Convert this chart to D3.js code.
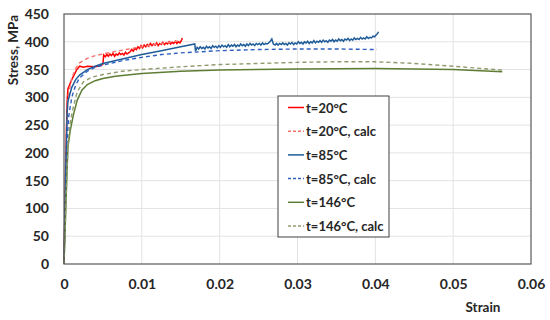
<!DOCTYPE html>
<html>
<head>
<meta charset="utf-8">
<script src="https://cdn.jsdelivr.net/npm/d3@7"></script>
<style>
  body { margin: 0; background: #fff; }
  text { font-family: Lato, "Open Sans", sans-serif; font-weight: bold; fill: #262626; }
</style>
</head>
<body>
<div id="chart"></div>
<script>
// axis ticks
var xTicks = [0, 0.01, 0.02, 0.03, 0.04, 0.05, 0.06];
var yTicks = [0, 50, 100, 150, 200, 250, 300, 350, 400, 450];

// measured curves, [strain, stress MPa]
var exp20 = [[0,0],[0.0002,170],[0.0004,290],[0.0005,315],[0.001,332],[0.0016,349],[0.002,356],[0.0025,354],
  [0.003,356],[0.004,355],[0.0048,357],[0.005,360],[0.0051,376],[0.0053,373],[0.0055,377],[0.0057,374],
  [0.0059,378],[0.0061,375],[0.0063,379],[0.0065,374],[0.0067,378],[0.0069,376],[0.0071,380],[0.0073,377],
  [0.0075,379],[0.0077,376],[0.0079,381],[0.0081,378],[0.0083,380],[0.0085,382],[0.0087,386],[0.0089,383],
  [0.0091,388],[0.0093,386],[0.0095,391],[0.0097,388],[0.0099,393],[0.0101,389],[0.0103,394],[0.0105,391],
  [0.0107,395],[0.0109,392],[0.0111,397],[0.0113,393],[0.0115,396],[0.0117,394],[0.0119,398],[0.0121,393],
  [0.0123,397],[0.0125,395],[0.0127,399],[0.0129,395],[0.0131,398],[0.0133,396],[0.0135,400],[0.0137,396],
  [0.0139,399],[0.0141,397],[0.0143,401],[0.0145,397],[0.0147,400],[0.0149,398],[0.0151,403],[0.0152,407]];

var calc20 = [[0,0],[0.0003,240],[0.0005,300],[0.001,335],[0.0015,352],[0.002,362],[0.003,370],[0.004,375],
  [0.005,378],[0.0075,385],[0.01,391],[0.0125,397],[0.015,402]];

var exp85 = [[0,0],[0.0002,150],[0.0004,270],[0.0005,293],[0.001,318],[0.0015,332],[0.002,340],[0.003,350],
  [0.004,356],[0.005,361],[0.0075,369],[0.01,377],[0.0125,384],[0.015,391],[0.0168,396],[0.0169,383],
  [0.0171,390],[0.0173,387],[0.0175,391],[0.0177,388],[0.0179,390],[0.0181,387],[0.0183,392],[0.0185,389],
  [0.0187,391],[0.0189,388],[0.0191,393],[0.0193,390],[0.0195,392],[0.0197,389],[0.0199,393],[0.0201,390],
  [0.0203,394],[0.0205,391],[0.0207,393],[0.0209,390],[0.0211,395],[0.0213,391],[0.0215,394],[0.0217,392],
  [0.0219,395],[0.0221,391],[0.0223,394],[0.0225,392],[0.0227,396],[0.0229,393],[0.0231,395],[0.0233,392],
  [0.0235,396],[0.0237,393],[0.0239,397],[0.0241,394],[0.0243,396],[0.0245,393],[0.0247,397],[0.0249,395],
  [0.0251,397],[0.0253,394],[0.0255,398],[0.0257,395],[0.0259,397],[0.0261,396],[0.0263,398],[0.0265,401],
  [0.0267,405],[0.0269,396],[0.0271,394],[0.0273,397],[0.0275,394],[0.0277,397],[0.0279,395],[0.0281,398],
  [0.0283,395],[0.0285,397],[0.0287,394],[0.0289,398],[0.0291,396],[0.0293,399],[0.0295,395],[0.0297,398],
  [0.0299,396],[0.0301,400],[0.0303,397],[0.0305,399],[0.0307,396],[0.0309,400],[0.0311,398],[0.0313,401],
  [0.0315,397],[0.0317,400],[0.0319,398],[0.0321,402],[0.0323,398],[0.0325,401],[0.0327,399],[0.0329,402],
  [0.0331,399],[0.0333,403],[0.0335,400],[0.0337,402],[0.0339,399],[0.0341,403],[0.0343,401],[0.0345,404],
  [0.0347,400],[0.0349,403],[0.0351,401],[0.0353,405],[0.0355,402],[0.0357,404],[0.0359,401],[0.0361,405],
  [0.0363,403],[0.0365,406],[0.0367,402],[0.0369,405],[0.0371,403],[0.0373,407],[0.0375,404],[0.0377,406],
  [0.0379,404],[0.0381,408],[0.0383,405],[0.0385,407],[0.0387,405],[0.0389,409],[0.0391,406],[0.0393,408],
  [0.0395,407],[0.0397,410],[0.0399,409],[0.0401,412],[0.0403,415],[0.0404,418]];

var calc85 = [[0,0],[0.0003,200],[0.0006,265],[0.001,300],[0.0015,322],[0.002,335],[0.003,347],[0.004,354],
  [0.005,358],[0.0075,366],[0.01,372],[0.0125,377],[0.015,380],[0.0175,382],[0.02,384],[0.025,386],
  [0.03,387],[0.035,387],[0.0402,386]];

var exp146 = [[0,0],[0.0003,130],[0.0005,210],[0.0008,240],[0.0012,268],[0.0017,295],[0.0023,313],[0.003,323],
  [0.004,330],[0.005,334],[0.0066,338],[0.01,343],[0.015,347],[0.02,349],[0.03,351],[0.04,352],
  [0.045,351],[0.05,350],[0.0563,346]];

var calc146 = [[0,0],[0.0003,130],[0.0005,210],[0.0008,255],[0.0012,283],[0.0017,310],[0.0025,328],[0.0035,336],
  [0.005,341],[0.0075,347],[0.01,350],[0.015,355],[0.02,359],[0.025,361],[0.03,363],[0.035,364],
  [0.04,364],[0.045,361],[0.05,356],[0.0563,349]];

var seriesNames = ["t=20°C", "t=20°C, calc", "t=85°C", "t=85°C, calc", "t=146°C", "t=146°C, calc"];
var seriesData = [exp20, calc20, exp85, calc85, exp146, calc146];
var seriesColors = ["#ff0000", "#f4736b", "#1f5c99", "#2f5fbf", "#5e7d34", "#8f9c6e"];
var seriesDashed = [false, true, false, true, false, true];

var margin = {top: 14, right: 19, bottom: 56, left: 64},
    width = 550 - margin.left - margin.right,
    height = 320 - margin.top - margin.bottom;

var svg = d3.select("#chart")
  .append("svg")
    .attr("width", 550)
    .attr("height", 320)
  .append("g")
    .attr("transform", "translate(" + margin.left + "," + margin.top + ")");

var x = d3.scaleLinear().domain([0, 0.06]).range([0, width]);
var y = d3.scaleLinear().domain([0, 450]).range([height, 0]);

// grid
svg.append("g")
  .selectAll("line.v")
  .data(xTicks.slice(1, -1))
  .enter()
  .append("line")
    .attr("x1", function (d) { return x(d); })
    .attr("x2", function (d) { return x(d); })
    .attr("y1", 0)
    .attr("y2", height)
    .attr("stroke", "#e3e3e3");

svg.append("g")
  .selectAll("line.h")
  .data(yTicks.slice(1, -1))
  .enter()
  .append("line")
    .attr("x1", 0)
    .attr("x2", width)
    .attr("y1", function (d) { return y(d); })
    .attr("y2", function (d) { return y(d); })
    .attr("stroke", "#e3e3e3");

// axes, labels only
var xAxis = svg.append("g")
  .attr("transform", "translate(0," + height + ")")
  .call(d3.axisBottom(x).tickValues(xTicks).tickSize(0).tickPadding(15)
    .tickFormat(function (d) { return d === 0 ? "0" : d3.format(".2f")(d); }));
xAxis.select(".domain").remove();
xAxis.selectAll("text").style("font-size", "14px").attr("fill", "#262626");

var yAxis = svg.append("g")
  .call(d3.axisLeft(y).tickValues(yTicks).tickSize(0).tickPadding(15));
yAxis.select(".domain").remove();
yAxis.selectAll("text").style("font-size", "14px").attr("fill", "#262626");

// curves
var line = d3.line()
  .x(function (d) { return x(d[0]); })
  .y(function (d) { return y(d[1]); });

svg.append("g")
  .selectAll("path")
  .data(seriesData)
  .enter()
  .append("path")
    .attr("d", line)
    .attr("fill", "none")
    .attr("stroke", function (d, i) { return seriesColors[i]; })
    .attr("stroke-width", function (d, i) { return seriesDashed[i] ? 1.4 : 1.5; })
    .attr("stroke-dasharray", function (d, i) { return seriesDashed[i] ? "4,3" : null; });

// plot frame
svg.append("rect")
  .attr("width", width)
  .attr("height", height)
  .attr("fill", "none")
  .attr("stroke", "#595959")
  .attr("stroke-width", 1.2);

// axis titles
svg.append("text")
  .attr("transform", "translate(" + (13 - margin.left) + "," + (50 - margin.top) + ") rotate(-90)")
  .attr("text-anchor", "middle")
  .attr("dominant-baseline", "central")
  .style("font-size", "13.5px")
  .text("Stress, MPa");

svg.append("text")
  .attr("x", 483 - margin.left)
  .attr("y", 307 - margin.top)
  .attr("text-anchor", "middle")
  .attr("dominant-baseline", "central")
  .style("font-size", "13.5px")
  .text("Strain");

// legend
var legend = svg.append("g")
  .attr("transform", "translate(" + (278 - margin.left) + "," + (96 - margin.top) + ")");

legend.append("rect")
  .attr("width", 111)
  .attr("height", 141)
  .attr("fill", "#fff")
  .attr("stroke", "#404040")
  .attr("stroke-width", 1);

var item = legend.selectAll("g.item")
  .data(seriesNames)
  .enter()
  .append("g")
    .attr("transform", function (d, i) { return "translate(0," + (11.5 + i * 23.7) + ")"; });

item.append("line")
  .attr("x1", 10)
  .attr("x2", 26)
  .attr("stroke", function (d, i) { return seriesColors[i]; })
  .attr("stroke-width", 1.5)
  .attr("stroke-dasharray", function (d, i) { return seriesDashed[i] ? "3,2" : null; });

item.append("text")
  .attr("x", 28)
  .attr("dominant-baseline", "central")
  .style("font-size", "13px")
  .text(function (d) { return d; });
</script>
</body>
</html>
